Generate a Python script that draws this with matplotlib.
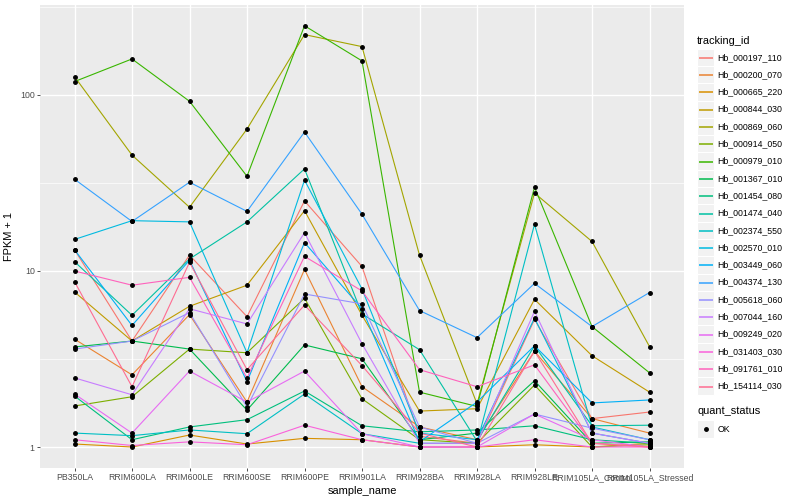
import matplotlib
matplotlib.use('Agg')
import matplotlib.pyplot as plt
from matplotlib.patches import Rectangle

plt.rcParams['font.family'] = ['Liberation Sans', 'DejaVu Sans']

# x categories
samples = ['PB350LA', 'RRIM600LA', 'RRIM600LE', 'RRIM600SE', 'RRIM600PE', 'RRIM901LA',
           'RRIM928BA', 'RRIM928LA', 'RRIM928LE', 'RRIM105LA_Control', 'RRIM105LA_Stressed']

# FPKM + 1 per gene, one value per sample
hb_000197_110 = [13.2, 4.0, 12.3, 5.5, 25.0, 10.6, 1.15, 1.05, 5.3, 1.45, 1.58]
hb_000200_070 = [4.1, 2.57, 5.65, 1.8, 10.2, 2.2, 1.3, 1.1, 3.5, 1.45, 1.2]
hb_000665_220 = [1.04, 1.0, 1.17, 1.04, 1.12, 1.1, 1.0, 1.0, 1.03, 1.0, 1.05]
hb_000844_030 = [7.6, 4.0, 6.3, 8.3, 22.0, 5.6, 1.6, 1.65, 6.9, 3.3, 2.05]
hb_000869_060 = [127, 45.5, 23, 64, 220, 188, 12.3, 1.76, 27.7, 14.7, 3.72]
hb_000914_050 = [1.71, 1.93, 3.6, 3.43, 7.0, 1.88, 1.1, 1.05, 2.25, 1.0, 1.03]
hb_000979_010 = [119, 160, 92, 34.5, 247, 156, 2.05, 1.7, 29.9, 4.83, 2.64]
hb_001367_010 = [3.7, 4.0, 3.6, 1.62, 3.8, 3.17, 1.1, 1.2, 2.38, 1.05, 1.07]
hb_001454_080 = [1.95, 1.1, 1.3, 1.43, 2.08, 1.32, 1.22, 1.25, 1.32, 1.1, 1.05]
hb_001474_040 = [11.3, 5.6, 11.7, 19.0, 38.0, 5.7, 3.57, 1.08, 3.76, 1.32, 1.33]
hb_002374_550 = [1.2, 1.16, 1.25, 1.19, 2.0, 1.19, 1.05, 1.05, 18.4, 1.3, 1.1]
hb_002570_010 = [15.1, 19.3, 19.0, 3.43, 32.8, 7.9, 1.2, 1.1, 5.4, 1.2, 1.05]
hb_003449_060 = [13.2, 4.9, 11.5, 2.35, 14.5, 6.1, 1.07, 1.8, 3.76, 1.78, 1.85]
hb_004374_130 = [33.2, 19.1, 31.9, 21.8, 61.5, 21.0, 5.96, 4.18, 8.5, 4.83, 7.54]
hb_005618_060 = [3.6, 4.0, 5.8, 1.69, 7.4, 6.5, 1.3, 1.05, 1.54, 1.28, 1.1]
hb_007044_160 = [2.47, 1.98, 6.1, 5.0, 16.5, 3.86, 1.05, 1.05, 5.9, 1.2, 1.05]
hb_009249_020 = [2.0, 1.2, 2.7, 1.8, 2.7, 1.19, 1.0, 1.0, 1.54, 1.1, 1.0]
hb_031403_030 = [1.1, 1.02, 1.07, 1.03, 1.33, 1.1, 1.0, 1.0, 1.1, 1.0, 1.0]
hb_091761_010 = [10.0, 8.3, 9.2, 2.47, 12.1, 7.7, 2.75, 2.2, 2.93, 1.05, 1.0]
hb_154114_030 = [8.7, 2.2, 11.2, 2.75, 6.4, 2.9, 1.2, 1.0, 3.5, 1.05, 1.0]

tracking_ids = ['Hb_000197_110', 'Hb_000200_070', 'Hb_000665_220', 'Hb_000844_030',
                'Hb_000869_060', 'Hb_000914_050', 'Hb_000979_010', 'Hb_001367_010',
                'Hb_001454_080', 'Hb_001474_040', 'Hb_002374_550', 'Hb_002570_010',
                'Hb_003449_060', 'Hb_004374_130', 'Hb_005618_060', 'Hb_007044_160',
                'Hb_009249_020', 'Hb_031403_030', 'Hb_091761_010', 'Hb_154114_030']
series = [hb_000197_110, hb_000200_070, hb_000665_220, hb_000844_030, hb_000869_060,
          hb_000914_050, hb_000979_010, hb_001367_010, hb_001454_080, hb_001474_040,
          hb_002374_550, hb_002570_010, hb_003449_060, hb_004374_130, hb_005618_060,
          hb_007044_160, hb_009249_020, hb_031403_030, hb_091761_010, hb_154114_030]

# ggplot hue palette, 20 levels
colours = ['#F8766D', '#EA8331', '#D89000', '#C09B00', '#A3A500', '#7CAE00', '#39B600',
           '#00BB4E', '#00BF7D', '#00C1A3', '#00BFC4', '#00BAE0', '#00B0F6', '#35A2FF',
           '#9590FF', '#C77CFF', '#E76BF3', '#FA62DB', '#FF62BC', '#FF6C91']

status_levels = ['OK']

W, H = 800, 500
fig = plt.figure(figsize=(8, 5), dpi=100)
fig.patch.set_facecolor('white')
ax = fig.add_axes([40 / W, 1 - 468 / H, (684 - 40) / W, (468 - 5) / H])
ax.set_facecolor('#EBEBEB')

x = list(range(len(samples)))
for vals, col in zip(series, colours):
    ax.plot(x, vals, color=col, lw=0.8, zorder=3, solid_capstyle='butt')
for vals in series:
    ax.plot(x, vals, ls='none', marker='o', ms=2.5, color='black', zorder=4)

ax.set_yscale('log')
ax.set_ylim(0.76, 324)
ax.set_xlim(-0.6, len(samples) - 0.4)

ax.set_yticks([1, 10, 100])
ax.set_yticklabels(['1', '10', '100'])
ax.set_yticks([10 ** 0.5, 10 ** 1.5, 10 ** 2.5], minor=True)
ax.yaxis.set_minor_formatter(plt.NullFormatter())
ax.set_xticks(x)
ax.set_xticklabels(samples)

ax.grid(True, which='major', color='white', lw=1.0, zorder=1)
ax.grid(True, which='minor', axis='y', color='white', lw=0.5, zorder=1)
ax.set_axisbelow(True)
for s in ax.spines.values():
    s.set_visible(False)
ax.tick_params(which='major', length=2.2, width=0.6, color='#333333', labelcolor='#4D4D4D',
               labelsize=6.3, pad=1.6)
ax.tick_params(which='minor', length=0)

ax.set_xlabel('sample_name', fontsize=7.9, labelpad=2.5)
ax.set_ylabel('FPKM + 1', fontsize=7.9, labelpad=4)

# legends, drawn in pixel coordinates on an overlay
lg = fig.add_axes([0, 0, 1, 1])
lg.set_xlim(0, W)
lg.set_ylim(H, 0)
lg.axis('off')

kx, ks = 697, 17.3
lg.text(kx, 40.5, 'tracking_id', fontsize=7.9, va='center', ha='left')
for i, (name, col) in enumerate(zip(tracking_ids, colours)):
    cy = 57.3 + i * ks
    lg.add_patch(Rectangle((kx, cy - ks / 2), ks, ks, facecolor='#F2F2F2',
                           edgecolor='white', lw=0.8, zorder=1))
    ly = int(cy) + 0.5
    lg.plot([kx + 1.7, kx + ks - 1.7], [ly, ly], color=col, lw=1.1,
            solid_capstyle='butt', zorder=3)
    lg.text(kx + ks + 3, cy, name, fontsize=6.3, va='center', ha='left')

lg.text(kx, 411.5, 'quant_status', fontsize=7.9, va='center', ha='left')
for j, st in enumerate(status_levels):
    cy = 429 + j * ks
    lg.add_patch(Rectangle((kx, cy - ks / 2), ks, ks, facecolor='#F2F2F2',
                           edgecolor='white', lw=0.8, zorder=1))
    lg.plot([kx + ks / 2], [cy], marker='o', ms=2.5, color='black', zorder=3)
    lg.text(kx + ks + 3, cy, st, fontsize=6.3, va='center', ha='left')

fig.savefig('out.png', dpi=100)
